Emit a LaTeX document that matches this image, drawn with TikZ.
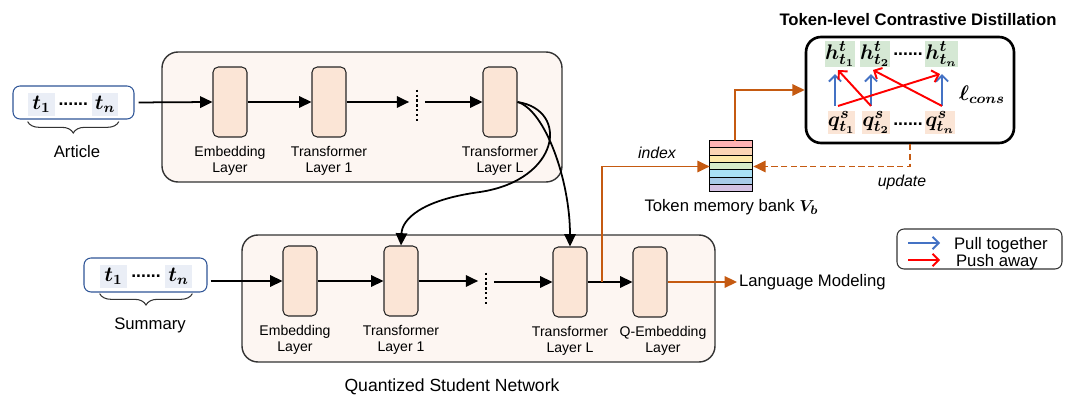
\documentclass[tikz,border=0pt]{standalone}
\usepackage{amsmath,amssymb}
\usepackage{bm}
\usepackage{fontspec}
\setmainfont{Liberation Sans}
\usepackage{xcolor}
\usetikzlibrary{positioning,calc,arrows.meta,decorations.pathreplacing}

\definecolor{peach}{HTML}{FBE5D6}
\definecolor{panelbg}{HTML}{FDF6F2}
\definecolor{burnt}{HTML}{C55A11}
\definecolor{tokbg}{HTML}{EAEEF6}
\definecolor{hbg}{HTML}{D5E8D4}
\definecolor{pullblue}{HTML}{4472C4}
\definecolor{seqblue}{HTML}{2F5597}
\definecolor{bk1}{HTML}{FFB3B3}
\definecolor{bk2}{HTML}{FCD5B5}
\definecolor{bk3}{HTML}{FFE9A8}
\definecolor{bk4}{HTML}{D8EBC8}
\definecolor{bk5}{HTML}{A9E0F5}
\definecolor{bk6}{HTML}{A9CBE8}
\definecolor{bk7}{HTML}{D4C1E2}

\begin{document}
\begin{tikzpicture}[x=0.02cm, y=-0.02cm,
    layer/.style={draw=black!85, fill=peach, rounded corners=3pt, line width=0.6pt,
        minimum width=0.68cm, minimum height=1.4cm},
    lbl/.style={align=center, font=\fontsize{8}{9}\selectfont, inner sep=1pt},
    capt/.style={font=\fontsize{9.5}{11}\selectfont, inner sep=1pt},
    note/.style={font=\fontsize{9}{11}\selectfont\itshape, inner sep=1pt},
    panel/.style={draw=black!80, fill=panelbg, rounded corners=0.32cm, line width=0.8pt},
    seq/.style={draw=seqblue, fill=white, rounded corners=4pt, line width=0.6pt},
    tok/.style={fill=tokbg, inner sep=0pt, minimum width=0.54cm, minimum height=0.46cm,
        font=\fontsize{12}{14}\selectfont},
    vec/.style={inner sep=0pt, minimum width=0.52cm, minimum height=0.44cm,
        font=\fontsize{12.5}{14}\selectfont},
    dotsbox/.style={minimum width=0.3cm, minimum height=0.64cm, inner sep=0pt},
    dotln/.style={line width=1.2pt, dash pattern=on 1.2pt off 1.6pt},
    brc/.style={decorate, decoration={brace, amplitude=6.5pt}, draw=black!80, line width=0.6pt},
    flow/.style={-{Triangle[length=7pt,width=6.5pt]}, line width=1pt},
    oflow/.style={flow, color=burnt},
    pullarr/.style={-{Straight Barb[length=3.5pt,width=7pt]}, draw=pullblue, line width=1.1pt},
    pusharr/.style={-{Straight Barb[length=3.5pt,width=7pt]}, draw=red, line width=1.1pt}]

    \useasboundingbox (0,0) rectangle (1069,398);

    % teacher network
    \draw[panel] (162,52) rectangle (562,182);
    \node[seq, minimum width=2.42cm, minimum height=0.66cm] (art) at (73.5,102.5) {};
    \node[tok] (at1) at (41.5,104.5) {$\bm{t_1}$};
    \node[tok] (atn) at (105,104.5) {$\bm{t_n}$};
    \node[inner sep=0pt] (adots) at ($(at1)!0.5!(atn)$) {\textbf{......}};
    \draw[brc] ([yshift=-3pt]atn.south east) -- ([yshift=-3pt]at1.south west);
    \node[capt] (artlbl) at (77,152) {Article};

    \node[layer] (temb) at (230,102) {};
    \node[layer] (tt1) at (329,102) {};
    \node[dotsbox] (tdots) at (417,106) {};
    \node[layer] (ttl) at (500,102) {};
    \node[lbl, below=4pt of temb] {Embedding\\Layer};
    \node[lbl, below=4pt of tt1] {Transformer\\Layer 1};
    \node[lbl, below=4pt of ttl] {Transformer\\Layer L};

    \draw[flow, shorten <=0.08cm] (art.east) -- (temb.west);
    \draw[flow] (temb.east) -- (tt1.west);
    \draw[flow] (tt1.east) -- (tt1.east -| tdots.west);
    \draw[dotln] (tdots.north) -- (tdots.south);
    \draw[flow] (tdots.east |- ttl.west) -- (ttl.west);

    % student network
    \draw[panel] (242,235) rectangle (715,362);
    \node[seq, minimum width=2.46cm, minimum height=0.68cm] (sum) at (145.5,275) {};
    \node[tok] (st1tok) at (113.5,276.5) {$\bm{t_1}$};
    \node[tok] (stntok) at (178.5,276.5) {$\bm{t_n}$};
    \node[inner sep=0pt] (sdotstok) at ($(st1tok)!0.5!(stntok)$) {\textbf{......}};
    \draw[brc] ([yshift=-3pt]stntok.south east) -- ([yshift=-3pt]st1tok.south west);
    \node[capt] (sumlbl) at (150,325) {Summary};

    \node[layer] (semb) at (300,281) {};
    \node[layer] (st1) at (401,281) {};
    \node[dotsbox] (sdots) at (486,289) {};
    \node[layer] (stl) at (570,282) {};
    \node[layer] (sqe) at (650,282) {};
    \node[lbl, below=4pt of semb, xshift=-0.1cm] {Embedding\\Layer};
    \node[lbl, below=4pt of st1] {Transformer\\Layer 1};
    \node[lbl, below=4pt of stl] {Transformer\\Layer L};
    \node[lbl, below=4pt of sqe, xshift=0.26cm] {Q-Embedding\\Layer};
    \node[font=\fontsize{10}{12}\selectfont] (stud) at (452,387) {Quantized Student Network};

    \draw[flow, shorten <=0.06cm] (sum.east |- semb.west) -- (semb.west);
    \draw[flow] (semb.east) -- (st1.west);
    \draw[flow] (st1.east) -- (st1.east -| sdots.west);
    \draw[dotln] (sdots.north) -- (sdots.south);
    \draw[flow] (sdots.east |- stl.west) -- (stl.west);
    \draw[flow] (stl.east) -- (sqe.west);
    \node[capt, anchor=west] (lm) at (737,282) {Language Modeling};
    \draw[oflow] (sqe.east) -- (lm.west);

    % teacher to student
    \coordinate (loop) at (480,192);
    \draw[flow] (ttl.east) .. controls (570,110) and (560,180) .. (loop)
        .. controls (420,200) and (402,220) .. (st1.north);
    \draw[flow] (ttl.east) .. controls (545,110) and (570,180) .. (stl.north);

    % memory bank
    \node[minimum width=0.86cm, minimum height=1.02cm, inner sep=0pt] (bank) at (731.5,166.5) {};
    \foreach \c [count=\i from 0] in {bk1,bk2,bk3,bk4,bk5,bk6,bk7}
        \draw[fill=\c, line width=0.5pt] ($(bank.north west)+(0,\i*7.286)$) rectangle ++(43,7.286);
    \node[capt, below=3pt of bank] (banklbl) {Token memory bank $\bm{V_b}$};

    \coordinate (br) at (602,282);
    \draw[oflow] (br) |- (bank.west);
    \node[note] (idx) at (657,153) {index};

    % contrastive distillation
    \node[draw, line width=1.5pt, rounded corners=0.3cm, minimum width=4.16cm,
        minimum height=2.12cm] (cbox) at (910,90) {};
    \node[font=\fontsize{9.5}{11}\selectfont\bfseries] (ctitle) at (918,20) {Token-level Contrastive Distillation};
    \node[vec, fill=hbg] (h1) at (840,54) {$\bm{h^t_{t_1}}$};
    \node[vec, fill=hbg] (h2) at (875,54) {$\bm{h^t_{t_2}}$};
    \node[inner sep=0pt] (hdots) at (908,54) {\textbf{......}};
    \node[vec, fill=hbg] (hn) at (941.5,54) {$\bm{h^t_{t_n}}$};
    \node[vec, fill=peach] (q1) at (841.5,122.5) {$\bm{q^s_{t_1}}$};
    \node[vec, fill=peach] (q2) at (876,122.5) {$\bm{q^s_{t_2}}$};
    \node[inner sep=0pt] (qdots) at (908,124) {\textbf{......}};
    \node[vec, fill=peach] (qn) at (940,122.5) {$\bm{q^s_{t_n}}$};
    \node[font=\fontsize{12}{14}\selectfont] (lcons) at (982,95) {$\bm{\ell_{cons}}$};

    \draw[pullarr] ($(q1.north)+(-6.5,-5)$) -- ($(h1.south)+(-5,7)$);
    \draw[pullarr] ($(q2.north)+(-5,-5)$) -- ($(h2.south)+(-4,7)$);
    \draw[pullarr] ($(qn.north)+(2,-5)$) -- ($(hn.south)+(0.5,7)$);
    \draw[pusharr] ($(q1.north)+(-3.5,-5)$) -- ($(hn.south)+(-1.5,7)$);
    \draw[pusharr] ($(q2.north)+(-5,-5)$) -- ($(h1.south)+(-2,3)$);
    \draw[pusharr] ($(qn.north)+(2,-5)$) -- ($(h2.south)+(-2,3)$);

    \draw[oflow] ([xshift=0.07cm]bank.north) |- (cbox.west);
    \draw[oflow, dash pattern=on 3.5pt off 2pt] (cbox.south) |- (bank.east);
    \node[note] (upd) at (902,182) {update};

    % legend
    \node[draw=black!80, rounded corners=4pt, line width=0.6pt, minimum width=3.3cm,
        minimum height=0.8cm] (legend) at (979.5,249) {};
    \node[capt, anchor=west] (pullt) at (952,245) {Pull together};
    \node[capt, anchor=west] (pusht) at (954,262) {Push away};
    \draw[pullarr] ($(pullt.west)+(-44,-2)$) -- ++(32,0);
    \draw[pusharr] ($(pusht.west)+(-46,-2)$) -- ++(32,0);
\end{tikzpicture}
\end{document}
